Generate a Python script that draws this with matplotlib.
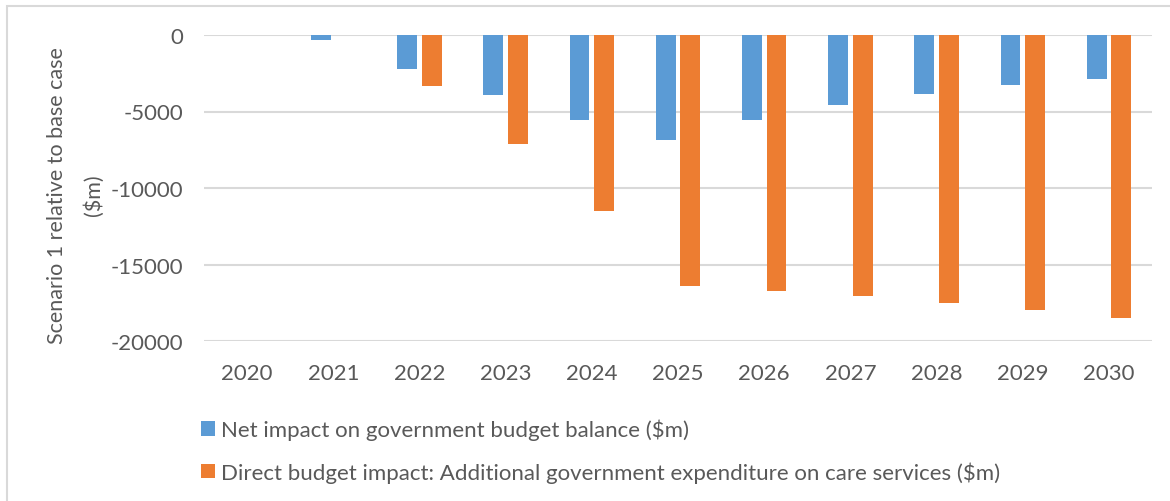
import matplotlib
matplotlib.use("Agg")
import matplotlib.pyplot as plt
from matplotlib.patches import Patch, Rectangle
import numpy as np

years = ["2020", "2021", "2022", "2023", "2024", "2025", "2026", "2027", "2028", "2029", "2030"]
net_impact = [0, -350, -2220, -3900, -5550, -6840, -5550, -4570, -3830, -3290, -2870]
direct_impact = [0, 0, -3350, -7140, -11500, -16420, -16740, -17090, -17530, -17980, -18480]

net_label = "Net impact on government budget balance ($m)"
direct_label = "Direct budget impact: Additional government expenditure on care services ($m)"

BLUE = "#5B9BD5"
ORANGE = "#ED7D31"
TEXT = "#595959"
GRID = "#d9d9d9"

plt.rcParams["font.family"] = ["Lato", "DejaVu Sans"]

W, H = 1170, 502
fig = plt.figure(figsize=(W / 100, H / 100), dpi=100)
ax = fig.add_axes([204 / W, 1 - 342 / H, (1152 - 204) / W, (342 - 36) / H])

x = np.arange(len(years))
bw = 0.23
off = 0.142
ax.bar(x - off, net_impact, width=bw, color=BLUE, zorder=3)
ax.bar(x + off, direct_impact, width=bw, color=ORANGE, zorder=3)

ax.set_xlim(-0.5, len(years) - 0.5)
ax.set_ylim(-20000, 0)
ax.set_yticks(np.arange(-20000, 1, 5000))
ax.set_yticklabels([f"{v:d}" for v in np.arange(-20000, 1, 5000)])
ax.set_xticks(x)
ax.set_xticklabels(years)
ax.tick_params(axis="both", length=0, labelsize=16, colors=TEXT)
ax.tick_params(axis="x", pad=16)
ax.tick_params(axis="y", pad=15)
ax.grid(axis="y", color=GRID, linewidth=1.5, zorder=0)
for s in ax.spines.values():
    s.set_visible(False)

ax.set_ylabel("Scenario 1 relative to base case\n($m)", fontsize=15.5, color=TEXT,
              linespacing=2.0)
ax.yaxis.set_label_coords(-0.1055, 0.48)

handles = [Patch(facecolor=BLUE, label=net_label),
           Patch(facecolor=ORANGE, label=direct_label)]
fig.legend(handles=handles, loc="upper left", bbox_to_anchor=(181 / W, 1 - 400 / H),
           frameon=False, fontsize=16, labelcolor=TEXT, handlelength=0.62,
           handleheight=0.62, handletextpad=0.3, labelspacing=0.95)

# light chart-area border
fig.patches.append(Rectangle((7 / W, -0.1), 1.2, 1.1 - 7 / H, transform=fig.transFigure,
                             fill=False, edgecolor=GRID, linewidth=1.5))

fig.savefig("out.png", dpi=100, facecolor="white")
